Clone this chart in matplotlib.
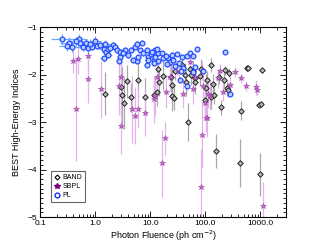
import numpy as np
import matplotlib.pyplot as plt
from matplotlib.ticker import FixedLocator, MultipleLocator, LogLocator, NullFormatter

plt.rcParams['font.family'] = ['Liberation Sans', 'DejaVu Sans']

# PL fits: photon fluence, high-energy index, errors
pl_flu = [0.25, 0.33, 0.31, 0.38, 0.50, 0.53, 0.60, 0.69, 0.73, 0.87,
          1.0, 1.1, 1.23, 1.42, 1.52, 1.58, 1.74, 2.15, 2.30, 2.54,
          1.42, 1.74, 2.85, 3.5, 4.0, 4.45, 5.3, 5.7, 7.0, 6.4,
          7.5, 8.6, 9.3, 10.2, 11.5, 12.3, 14.1, 5.7, 4.8, 2.85,
          2.66, 10.7, 12.3, 13.2, 16.2, 17.4, 14.1, 11.5, 21.3, 23,
          26.3, 30.3, 38, 47, 53, 59, 72, 40, 36, 35,
          46, 66, 61, 90, 230, 285, 8.6, 19, 3.2, 0.45,
          0.8, 1.9, 6.0, 9.0, 20, 28, 33, 25]
pl_idx = [-1.26, -1.33, -1.40, -1.41, -1.25, -1.34, -1.41, -1.33, -1.44, -1.41,
          -1.29, -1.39, -1.38, -1.47, -1.36, -1.52, -1.45, -1.38, -1.41, -1.48,
          -1.66, -1.59, -1.52, -1.48, -1.59, -1.48, -1.41, -1.36, -1.33, -1.48,
          -1.55, -1.48, -1.62, -1.57, -1.69, -1.48, -1.55, -1.72, -1.69, -1.62,
          -1.71, -1.52, -1.62, -1.47, -1.55, -1.66, -1.72, -1.76, -1.66, -1.73,
          -1.69, -1.57, -1.62, -1.61, -1.55, -1.61, -1.45, -1.87, -1.92, -2.12,
          -2.24, -1.84, -1.94, -1.92, -1.53, -2.41, -1.80, -1.60, -1.55, -1.30,
          -1.35, -1.43, -1.62, -1.70, -1.78, -1.82, -1.75, -1.58]
pl_err = [0.12, 0.12, 0.10, 0.12, 0.10, 0.10, 0.10, 0.08, 0.10, 0.08,
          0.10, 0.08, 0.08, 0.08, 0.08, 0.08, 0.08, 0.07, 0.07, 0.07,
          0.08, 0.07, 0.06, 0.06, 0.06, 0.06, 0.06, 0.06, 0.05, 0.05,
          0.05, 0.05, 0.05, 0.05, 0.05, 0.05, 0.05, 0.06, 0.06, 0.06,
          0.06, 0.05, 0.05, 0.05, 0.05, 0.05, 0.05, 0.05, 0.05, 0.05,
          0.05, 0.04, 0.04, 0.04, 0.04, 0.04, 0.04, 0.05, 0.05, 0.06,
          0.06, 0.04, 0.04, 0.04, 0.03, 0.05, 0.05, 0.05, 0.06, 0.10,
          0.10, 0.08, 0.05, 0.05, 0.05, 0.05, 0.05, 0.05]
pl_xerr_dex = [0.20, 0.15, 0.15, 0.12, 0.15, 0.12, 0.10, 0.10, 0.10, 0.08,
               0.10, 0.08, 0.08, 0.08, 0.08, 0.08, 0.06, 0.06, 0.06, 0.06,
               0.06, 0.06, 0.05, 0.05, 0.05, 0.05, 0.05, 0.05, 0.05, 0.05,
               0.04, 0.04, 0.04, 0.04, 0.04, 0.04, 0.04, 0.05, 0.05, 0.05,
               0.05, 0.04, 0.04, 0.04, 0.04, 0.04, 0.04, 0.04, 0.03, 0.03,
               0.03, 0.03, 0.03, 0.03, 0.03, 0.03, 0.03, 0.03, 0.03, 0.03,
               0.03, 0.03, 0.03, 0.03, 0.02, 0.02, 0.04, 0.04, 0.05, 0.12,
               0.10, 0.06, 0.05, 0.04, 0.04, 0.03, 0.03, 0.03]

# BAND fits
band_flu = [1.52, 2.93, 3.1, 3.3, 3.86, 4.45, 5.9, 8.1, 11.5, 13.6,
            14.5, 13.2, 23.8, 24.4, 24.8, 26.8, 28.1, 38.6, 43.3, 44.5,
            47.7, 52, 55.8, 59, 64, 66, 80, 85, 100, 107,
            104, 127, 128, 136, 146, 196, 220, 229, 250, 271,
            156, 433, 445, 575, 600, 935, 1020, 1070, 1000, 260,
            180, 17]
band_idx = [-2.40, -2.27, -2.43, -2.59, -2.14, -2.48, -2.12, -2.48, -2.42, -1.89,
            -2.15, -2.36, -2.06, -2.21, -2.46, -2.49, -1.92, -1.80, -2.00, -2.15,
            -2.99, -1.89, -2.01, -1.92, -2.08, -2.15, -2.03, -1.88, -2.54, -2.12,
            -2.29, -1.80, -2.48, -2.19, -2.42, -2.69, -2.12, -1.91, -2.29, -1.96,
            -3.61, -3.86, -2.76, -1.87, -1.86, -2.63, -2.61, -1.91, -4.10, -2.32,
            -2.05, -2.02]
band_err = [0.45, 0.55, 0.60, 0.55, 0.35, 0.30, 0.35, 0.40, 0.30, 0.20,
            0.30, 0.30, 0.30, 0.35, 0.30, 0.25, 0.20, 0.15, 0.25, 0.30,
            0.40, 0.15, 0.20, 0.20, 0.25, 0.25, 0.20, 0.20, 0.35, 0.20,
            0.30, 0.15, 0.25, 0.20, 0.20, 0.15, 0.15, 0.10, 0.15, 0.10,
            0.35, 0.50, 0.20, 0.05, 0.05, 0.05, 0.05, 0.05, 0.45, 0.15,
            0.15, 0.30]

# SBPL fits
sbpl_flu = [0.39, 0.48, 0.74, 0.74, 1.29, 0.45, 2.66, 2.93, 4.6, 5.3,
            8.1, 11.9, 2.93, 5.9, 19.5, 61, 100, 107, 120, 23,
            28.5, 53, 87, 93, 114, 170, 186, 210, 285, 350,
            440, 550, 835, 870, 104, 40, 12, 13.2, 16.7, 18.2,
            87, 83, 1100, 33, 65]
sbpl_idx = [-1.72, -1.68, -1.60, -2.09, -2.31, -2.72, -2.24, -2.06, -2.73, -2.87,
            -2.80, -2.52, -3.08, -2.73, -2.36, -2.31, -2.59, -2.91, -2.44, -2.05,
            -1.85, -1.73, -1.92, -2.24, -2.40, -2.08, -1.92, -2.36, -2.22, -1.94,
            -2.08, -2.24, -2.27, -2.33, -2.91, -2.40, -2.45, -2.05, -3.87, -3.34,
            -3.27, -4.36, -4.77, -1.95, -2.05]
sbpl_err = [0.25, 0.30, 0.30, 0.50, 0.60, 1.10, 0.60, 0.40, 0.70, 0.60,
            0.50, 0.50, 0.60, 0.40, 0.35, 0.30, 0.35, 0.40, 0.30, 0.30,
            0.20, 0.20, 0.20, 0.30, 0.30, 0.20, 0.15, 0.20, 0.20, 0.10,
            0.10, 0.10, 0.15, 0.10, 0.30, 0.30, 0.40, 0.30, 0.70, 0.35,
            0.70, 0.80, 0.50, 0.20, 0.20]

fig = plt.figure(figsize=(3.11, 2.49), dpi=100)
ax = fig.add_axes([0.129, 0.128, 0.791, 0.763])

# BAND
ax.errorbar(band_flu, band_idx, yerr=band_err, fmt='none', ecolor='#a8a8a8',
            elinewidth=0.9, zorder=1)
ax.plot(band_flu, band_idx, 'D', ms=2.8, mfc='#b8b8b8', mec='#202020', mew=0.7,
        zorder=4)

# SBPL
ax.errorbar(sbpl_flu, sbpl_idx, yerr=sbpl_err, fmt='none', ecolor='#e4b0ec',
            elinewidth=0.9, zorder=2)
ax.plot(sbpl_flu, sbpl_idx, '*', ms=3.8, mfc='#c070c8', mec='#a040a8', mew=0.4,
        zorder=5)

# PL
pl_flu_a = np.array(pl_flu)
pl_dex = np.array(pl_xerr_dex)
pl_xerr = [pl_flu_a - pl_flu_a / 10 ** pl_dex, pl_flu_a * 10 ** pl_dex - pl_flu_a]
ax.errorbar(pl_flu, pl_idx, yerr=pl_err, xerr=pl_xerr, fmt='none',
            ecolor='#6aaaf5', elinewidth=0.9, zorder=3)
ax.plot(pl_flu, pl_idx, 'o', ms=3.5, mfc='#b4cfff', mec='#1a40ff', mew=0.8,
        zorder=6)

ax.set_xscale('log')
ax.set_xlim(0.1, 2950)
ax.set_ylim(-5, -1)
ax.xaxis.set_major_locator(FixedLocator([0.1, 1, 10, 100, 1000]))
ax.set_xticklabels(['0.1', '1.0', '10.0', '100.0', '1000.0'])
ax.xaxis.set_minor_locator(LogLocator(base=10, subs=np.arange(2, 10)))
ax.xaxis.set_minor_formatter(NullFormatter())
ax.yaxis.set_minor_locator(MultipleLocator(0.1))
ax.set_yticks([-5, -4, -3, -2, -1])
ax.set_yticklabels(['\u22125', '\u22124', '\u22123', '\u22122', '\u22121'])

ax.tick_params(which='both', direction='in', top=True, right=True,
               labelsize=6, width=0.6, pad=2)
ax.tick_params(which='major', length=4)
ax.tick_params(which='minor', length=2)
for s in ax.spines.values():
    s.set_linewidth(0.8)

ax.set_xlabel('Photon Fluence (ph cm$^{-2}$)', fontsize=6.5, labelpad=1)
ax.set_ylabel('BEST High-Energy Indices', fontsize=6.5, labelpad=5)

h1, = ax.plot([], [], 'D', ms=2.5, mfc='none', mec='black', mew=0.8)
h2, = ax.plot([], [], '*', ms=4, color='#800080')
h3, = ax.plot([], [], 'o', ms=3.5, mfc='none', mec='#0020ff', mew=0.9)
leg = ax.legend([h1, h2, h3], ['BAND', 'SBPL', 'PL'], loc='lower left',
                bbox_to_anchor=(0.03, 0.06), fontsize=5, frameon=True,
                fancybox=False, edgecolor='#404040', handlelength=0.9,
                handletextpad=0.3, borderpad=0.45, labelspacing=0.3)
leg.get_frame().set_linewidth(0.8)

fig.savefig('out.png', dpi=100)
